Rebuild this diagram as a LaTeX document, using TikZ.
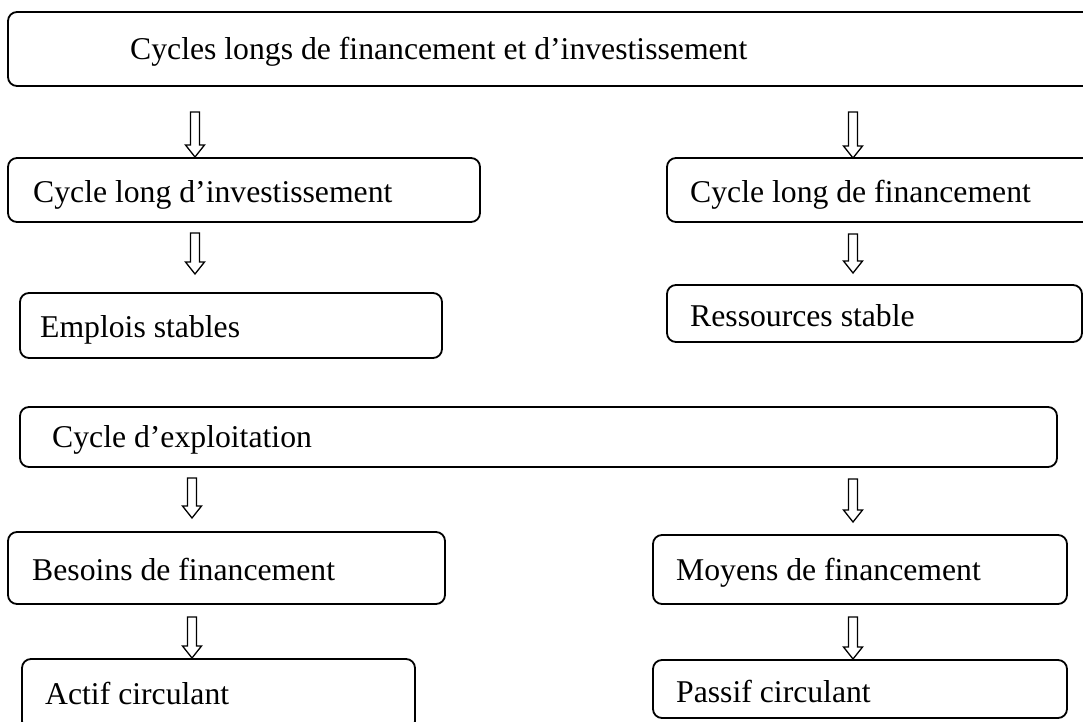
\documentclass[tikz,border=0pt]{standalone}
\usepackage{fontspec}
\setmainfont{Liberation Serif}
\usetikzlibrary{fit}
\tikzset{
  boxst/.style={draw=black, line width=1.8pt, rounded corners=9pt, inner sep=0pt},
  lab/.style={anchor=base west, inner sep=0pt, font=\fontsize{31.7}{38}\selectfont},
  hollow/.style={draw=black, line width=1.3pt, fill=white, line join=miter}
}
% hollow down arrow: #1 = x centre, #2 = top y, #3 = bottom y
\newcommand\downarr[3]{%
  \draw[hollow] (#1-4.5,#2) -- (#1+4.5,#2) -- (#1+4.5,#3-12) -- (#1+9.5,#3-12)
    -- (#1,#3) -- (#1-9.5,#3-12) -- (#1-4.5,#3-12) -- cycle;}
\begin{document}
\begin{tikzpicture}[x=1pt,y=-1pt]
\useasboundingbox (0,0) rectangle (1083,722);
\clip (0,0) rectangle (1083,722);
\fill[white] (0,0) rectangle (1083,722);

% boxes
\node[boxst, fit={(8,12) (1100,86)}] (b1) {};
\node[lab] (t1) at (130,60) {Cycles longs de financement et d’investissement};

\node[boxst, fit={(8,158) (480,222)}] (b2) {};
\node[lab] (t2) at (33,202) {Cycle long d’investissement};

\node[boxst, fit={(667,158) (1100,222)}] (b3) {};
\node[lab] (t3) at (690,202) {Cycle long de financement};

\node[boxst, fit={(20,293) (442,358)}] (b4) {};
\node[lab] (t4) at (40,337) {Emplois stables};

\node[boxst, fit={(667,285) (1082,342)}] (b5) {};
\node[lab] (t5) at (690,326) {Ressources stable};

\node[boxst, fit={(20,407) (1057,467)}] (b6) {};
\node[lab] (t6) at (52,447) {Cycle d’exploitation};

\node[boxst, fit={(8,532) (445,604)}] (b7) {};
\node[lab] (t7) at (32,580) {Besoins de financement};

\node[boxst, fit={(653,535) (1067,604)}] (b8) {};
\node[lab] (t8) at (676,580) {Moyens de financement};

\node[boxst, fit={(22,659) (415,730)}] (b9) {};
\node[lab] (t9) at (45,704) {Actif circulant};

\node[boxst, fit={(653,660) (1067,718)}] (b10) {};
\node[lab] (t10) at (676,702) {Passif circulant};

% hollow arrows
\downarr{195}{112}{157}
\downarr{853}{112}{158}
\downarr{195}{233}{274}
\downarr{853}{234}{273}
\downarr{192}{478}{518}
\downarr{853}{479}{522}
\downarr{192}{617}{658}
\downarr{853}{617}{659}
\end{tikzpicture}
\end{document}
